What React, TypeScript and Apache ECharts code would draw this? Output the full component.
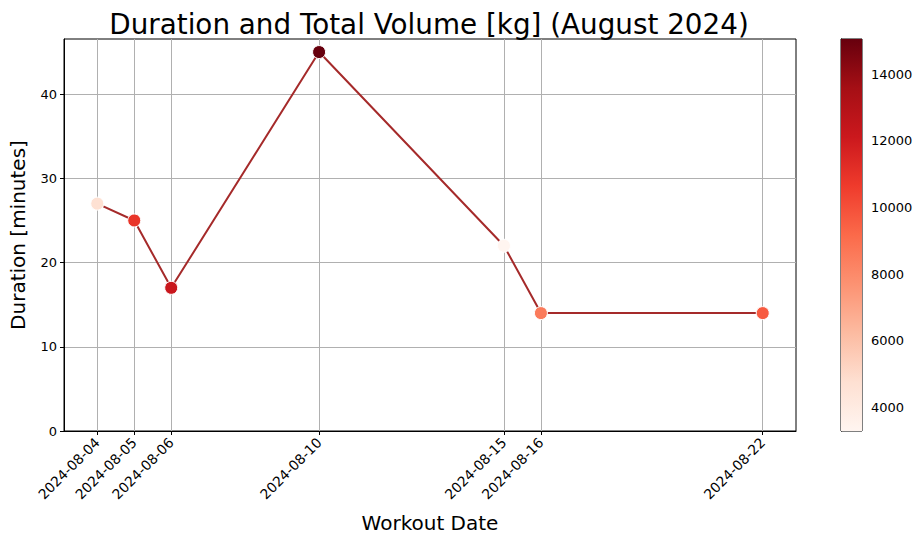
import React, { useEffect, useRef } from "react";
import * as echarts from "echarts";

const dates = ["2024-08-04", "2024-08-05", "2024-08-06", "2024-08-10", "2024-08-15", "2024-08-16", "2024-08-22"];
const durations = [27, 25, 17, 45, 22, 14, 14];
const volumes = [4700, 10900, 12200, 15050, 3300, 8550, 9680];
const yTicks = [0, 10, 20, 30, 40];
const cbTicks = [4000, 6000, 8000, 10000, 12000, 14000];
const cbMin = 3300;
const cbMax = 15050;
const reds = ["#fff5f0", "#fee0d2", "#fcbba1", "#fc9272", "#fb6a4a", "#ef3b2c", "#cb181d", "#a50f15", "#67000d"];

const FONT = "DejaVu Sans";

function parseLocal(s: string): number {
  const [y, m, d] = s.split("-").map(Number);
  return Date.UTC(y, m - 1, d);
}

export default function App() {
  const ref = useRef<HTMLDivElement>(null);
  useEffect(() => {
    if (!ref.current) return;
    const chart = echarts.init(ref.current, undefined, { renderer: "svg" });
    const ts = dates.map(parseLocal);
    const span = ts[ts.length - 1] - ts[0];
    const xMin = ts[0] - span * 0.05;
    const xMax = ts[ts.length - 1] + span * 0.05;
    const yMax = 45 + (45 - 14) * 0.05;
    const gradStops = reds.map((c, i) => ({ offset: i / (reds.length - 1), color: c }));

    chart.setOption({
      animation: false,
      backgroundColor: "#fff",
      textStyle: { fontFamily: FONT },
      title: {
        text: "Duration and Total Volume [kg] (August 2024)",
        left: 424,
        top: 5,
        textAlign: "center",
        textStyle: { fontFamily: FONT, fontSize: 27.8, fontWeight: "normal", color: "#000" },
      },
      grid: [
        { left: 63, right: 128, top: 39, bottom: 112, show: true, borderColor: "#000", borderWidth: 1, backgroundColor: "transparent" },
        { left: 841, width: 21, top: 39, bottom: 112, show: true, borderColor: "#000", borderWidth: 1, backgroundColor: "transparent" },
      ],
      xAxis: [
        {
          type: "value",
          gridIndex: 0,
          min: xMin,
          max: xMax,
          name: "Workout Date",
          nameLocation: "middle",
          nameGap: 82,
          nameTextStyle: { fontFamily: FONT, fontSize: 20, color: "#000" },
          axisLine: { show: true, onZero: false, lineStyle: { color: "#000", width: 1 } },
          axisTick: { show: true, length: 4, lineStyle: { color: "#000" }, customValues: ts },
          axisLabel: {
            customValues: ts,
            rotate: 45,
            fontFamily: FONT,
            fontSize: 13.8,
            color: "#000",
            margin: 9,
            formatter: (v: number) => {
              const d = new Date(v);
              const mm = String(d.getUTCMonth() + 1).padStart(2, "0");
              const dd = String(d.getUTCDate()).padStart(2, "0");
              return `${d.getUTCFullYear()}-${mm}-${dd}`;
            },
          },
          splitLine: { show: true, lineStyle: { color: "#b0b0b0", width: 1 } },
        },
        { type: "value", gridIndex: 1, min: 0, max: 1, show: false },
      ],
      yAxis: [
        {
          type: "value",
          gridIndex: 0,
          min: 0,
          max: yMax,
          name: "Duration [minutes]",
          nameLocation: "middle",
          nameGap: 36,
          nameTextStyle: { fontFamily: FONT, fontSize: 20, color: "#000" },
          axisLine: { show: true, onZero: false, lineStyle: { color: "#000", width: 1 } },
          axisTick: { show: true, length: 4, lineStyle: { color: "#000" }, customValues: yTicks },
          axisLabel: { customValues: yTicks, fontFamily: FONT, fontSize: 13, color: "#000", margin: 7 },
          splitLine: { show: true, lineStyle: { color: "#b0b0b0", width: 1 } },
        },
        {
          type: "value",
          gridIndex: 1,
          min: cbMin,
          max: cbMax,
          position: "right",
          axisLine: { show: true, lineStyle: { color: "#000", width: 1 } },
          axisTick: { show: true, length: 4, lineStyle: { color: "#000" }, customValues: cbTicks },
          axisLabel: {
            customValues: cbTicks,
            fontFamily: FONT,
            fontSize: 13,
            color: "#000",
            margin: 9,
            formatter: (v: number) => String(v),
          },
          splitLine: { show: false },
        },
      ],
      visualMap: {
        type: "continuous",
        show: false,
        min: cbMin,
        max: cbMax,
        dimension: 2,
        seriesIndex: 1,
        inRange: { color: reds },
      },
      series: [
        {
          type: "line",
          xAxisIndex: 0,
          yAxisIndex: 0,
          data: ts.map((t, i) => [t, durations[i]]),
          showSymbol: false,
          symbol: "none",
          lineStyle: { color: "#a52a2a", width: 2 },
          z: 2,
        },
        {
          type: "scatter",
          xAxisIndex: 0,
          yAxisIndex: 0,
          data: ts.map((t, i) => [t, durations[i], volumes[i]]),
          symbolSize: 13,
          itemStyle: { borderColor: "#fff", borderWidth: 1, opacity: 1 },
          z: 3,
        },
        {
          type: "custom",
          xAxisIndex: 1,
          yAxisIndex: 1,
          data: [[0, cbMin, 1, cbMax]],
          renderItem: (params: any, api: any) => {
            const p0 = api.coord([api.value(0), api.value(1)]);
            const p1 = api.coord([api.value(2), api.value(3)]);
            return {
              type: "rect",
              shape: { x: p0[0], y: p1[1], width: p1[0] - p0[0], height: p0[1] - p1[1] },
              style: { fill: new echarts.graphic.LinearGradient(0, 1, 0, 0, gradStops) },
            };
          },
          z: 1,
        },
      ],
    });
    return () => chart.dispose();
  }, []);
  return <div ref={ref} style={{ width: 924, height: 543, position: "absolute", left: 0, top: 0 }} />;
}
